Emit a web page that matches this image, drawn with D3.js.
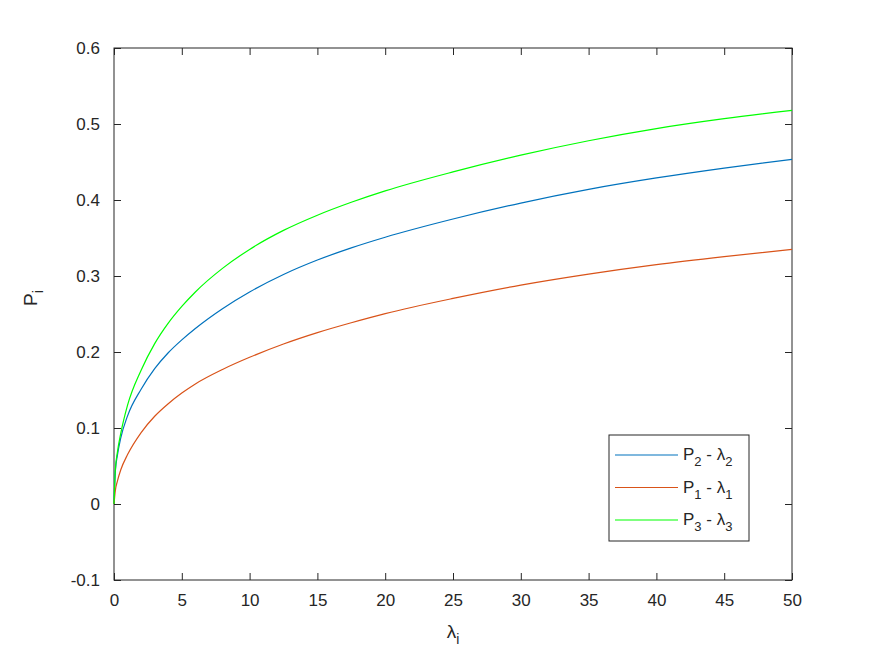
<!DOCTYPE html>
<html>
<head>
<meta charset="utf-8">
<script src="https://cdn.jsdelivr.net/npm/d3@7"></script>
<style>
  body { margin: 0; background: #fff; }
  text { font-family: "Liberation Sans", Arial, sans-serif; fill: #262626; }
</style>
</head>
<body>
<div class="chart"></div>
<script>
const margin = ({top: 48, right: 83, bottom: 77, left: 114})
const width = 875 - margin.left - margin.right
const height = 657 - margin.top - margin.bottom

// data
const lambda = [0, 0.1, 0.25, 0.5, 1, 2, 3, 4, 5, 6, 8, 10, 12.5, 15, 17.5, 20, 25, 30, 35, 40, 45, 50]
const p2 = [0, 0.043, 0.064, 0.087, 0.116, 0.151, 0.178, 0.199, 0.216, 0.231, 0.257, 0.279, 0.302, 0.321, 0.337, 0.351, 0.375, 0.396, 0.414, 0.429, 0.442, 0.4535]
const p1 = [0, 0.018, 0.03, 0.045, 0.065, 0.094, 0.1155, 0.132, 0.146, 0.158, 0.177, 0.193, 0.2105, 0.2255, 0.2385, 0.2505, 0.2705, 0.288, 0.3025, 0.315, 0.3255, 0.335]
const p3 = [0, 0.045, 0.068, 0.093, 0.13, 0.176, 0.211, 0.238, 0.26, 0.279, 0.31, 0.335, 0.36, 0.38, 0.397, 0.412, 0.437, 0.459, 0.478, 0.494, 0.507, 0.518]
const seriesNames = [["2", "2"], ["1", "1"], ["3", "3"]]
const seriesColors = ["#0072BD", "#D95319", "#00FF00"]
const xTicks = [0, 5, 10, 15, 20, 25, 30, 35, 40, 45, 50]
const yTicks = [-0.1, 0, 0.1, 0.2, 0.3, 0.4, 0.5, 0.6]

const series = [p2, p1, p3]

const svg = d3.select('.chart').append('svg')
    .attr("width", width + margin.left + margin.right)
    .attr("height", height + margin.top + margin.bottom)
    .append("g")
    .attr("transform", "translate(" + margin.left + "," + margin.top + ")")

// SCALES
const xScale = d3.scaleLinear().domain([0, 50]).range([0, width])
const yScale = d3.scaleLinear().domain([-0.1, 0.6]).range([height, 0])

// AXES (matlab style: ticks inside, box around)
const tickLen = 7
const xAxis = d3.axisBottom(xScale).tickValues(xTicks).tickSizeInner(-tickLen).tickSizeOuter(0).tickPadding(14).tickFormat(d3.format("d"))
const yAxis = d3.axisLeft(yScale).tickValues(yTicks).tickSizeInner(-tickLen).tickSizeOuter(0).tickPadding(14).tickFormat(d => d3.format(".1f")(d).replace("0.0", "0").replace("−", "-"))

const styleAxis = g => {
    g.selectAll(".domain").remove()
    g.selectAll("line").attr("stroke", "#262626")
    g.selectAll("text").attr("font-size", 17).attr("fill", "#262626").attr("font-family", "Liberation Sans, Arial, sans-serif")
}

svg.append("g").attr("transform", `translate(0, ${height})`).call(xAxis).call(styleAxis)
svg.append("g").call(yAxis).call(styleAxis)
svg.append("g").call(d3.axisTop(xScale).tickValues(xTicks).tickSizeInner(-tickLen).tickSizeOuter(0).tickFormat(""))
    .call(styleAxis)
svg.append("g").attr("transform", `translate(${width}, 0)`)
    .call(d3.axisRight(yScale).tickValues(yTicks).tickSizeInner(-tickLen).tickSizeOuter(0).tickFormat(""))
    .call(styleAxis)

svg.append("rect")
    .attr("width", width).attr("height", height)
    .attr("fill", "none").attr("stroke", "#262626").attr("stroke-width", 1)

// LINES
const line = d3.line()
    .x((d, i) => xScale(lambda[i]))
    .y(d => yScale(d))
    .curve(d3.curveMonotoneX)

svg.append("g")
    .selectAll("path")
    .data(series)
    .join("path")
    .attr("d", line)
    .attr("fill", "none")
    .attr("stroke", (d, i) => seriesColors[i])
    .attr("stroke-width", 1.2)

// AXIS LABELS
const xl = svg.append("text")
    .attr("x", width / 2).attr("y", height + 58)
    .attr("text-anchor", "middle").attr("font-size", 19)
xl.append("tspan").text("λ")
xl.append("tspan").attr("font-size", 14).attr("dy", 6).text("i")

const yl = svg.append("text")
    .attr("transform", `translate(${-77}, ${height / 2 - 16}) rotate(-90)`)
    .attr("text-anchor", "middle").attr("font-size", 19)
yl.append("tspan").text("P")
yl.append("tspan").attr("font-size", 14).attr("dy", 6).text("i")

// LEGEND
const lg = svg.append("g").attr("transform", `translate(${609 - margin.left}, ${435 - margin.top})`)
lg.append("rect")
    .attr("width", 140).attr("height", 106)
    .attr("fill", "#fff").attr("stroke", "#262626").attr("stroke-width", 1)

const rows = lg.selectAll("g.row")
    .data(seriesNames)
    .join("g")
    .attr("class", "row")
    .attr("transform", (d, i) => `translate(0, ${20 + i * 32.5})`)

rows.append("line")
    .attr("x1", 6).attr("x2", 69)
    .attr("stroke", (d, i) => seriesColors[i]).attr("stroke-width", 1.2)

const lt = rows.append("text").attr("x", 74).attr("y", 5).attr("font-size", 17)
lt.append("tspan").text("P")
lt.append("tspan").attr("font-size", 13).attr("dy", 6).text(d => d[0])
lt.append("tspan").attr("dy", -6).text(" - λ")
lt.append("tspan").attr("font-size", 13).attr("dy", 6).text(d => d[1])
</script>
</body>
</html>
